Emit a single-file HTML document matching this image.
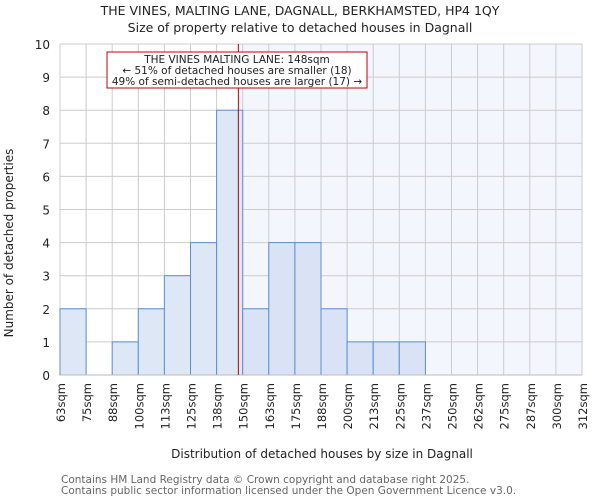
<!DOCTYPE html>
<html><head><meta charset="utf-8"><style>
body{margin:0;background:#fff;font-family:"DejaVu Sans","Liberation Sans",sans-serif;}
svg text{font-family:"DejaVu Sans","Liberation Sans",sans-serif;}
</style></head><body>
<svg id="chart" width="600" height="500" xmlns="http://www.w3.org/2000/svg">
<text x="300" y="15" text-anchor="middle" font-size="12.5" fill="#222">THE VINES, MALTING LANE, DAGNALL, BERKHAMSTED, HP4 1QY</text>
<text x="300" y="32" text-anchor="middle" font-size="12.5" fill="#222">Size of property relative to detached houses in Dagnall</text>
<rect id="shade" fill="#f3f6fd"></rect>
<g id="grid"></g>
<g id="bars"></g>
<g id="axes"></g>
<text x="0" y="0" transform="translate(13,243) rotate(-90)" text-anchor="middle" font-size="12" fill="#222">Number of detached properties</text>
<text x="322" y="458" text-anchor="middle" font-size="12" fill="#222">Distribution of detached houses by size in Dagnall</text>
<text x="61" y="483" font-size="10.5" fill="#666">Contains HM Land Registry data © Crown copyright and database right 2025.</text>
<text x="61" y="494" font-size="10.5" fill="#666">Contains public sector information licensed under the Open Government Licence v3.0.</text>
</svg>
<script>
const categories=["63sqm","75sqm","88sqm","100sqm","113sqm","125sqm","138sqm","150sqm","163sqm","175sqm","188sqm","200sqm","213sqm","225sqm","237sqm","250sqm","262sqm","275sqm","287sqm","300sqm","312sqm"];
const binEdges=[63,75,88,100,113,125,138,150,163,175,188,200,213,225,237,250,262,275,287,300,312];
const counts=[2,0,1,2,3,4,8,2,4,4,2,1,1,1,0,0,0,0,0,0];
const yTicks=[0,1,2,3,4,5,6,7,8,9,10];
const markerValue=148;
const NS="http://www.w3.org/2000/svg";
const x0=60,x1=582,y0=375,y1=44,n=binEdges.length-1;
const bw=(x1-x0)/n;
function xIdx(i){return x0+i*bw;}
function xVal(v){let i=0;while(i<n-1&&v>binEdges[i+1])i++;return xIdx(i)+(v-binEdges[i])/(binEdges[i+1]-binEdges[i])*bw;}
function y(v){return y0-(v/10)*(y0-y1);}
function mk(t,a,p){const e=document.createElementNS(NS,t);for(const k in a)e.setAttribute(k,a[k]);p.appendChild(e);return e;}
const grid=document.getElementById('grid'),bars=document.getElementById('bars'),axes=document.getElementById('axes');
yTicks.forEach(t=>{const l=mk('line',{x1:x0,x2:x1,y1:y(t),y2:y(t),stroke:'#ccc','stroke-width':1},grid);


const tx=mk('text',{x:x0-10,y:y(t)+5,'text-anchor':'end','font-size':12,fill:'#222'},axes);tx.textContent=t;

});
categories.forEach((c,i)=>{const l=mk('line',{x1:xIdx(i),x2:xIdx(i),y1:y1,y2:y0,stroke:'#ccc','stroke-width':1},grid);


const tx=mk('text',{transform:`translate(${xIdx(i)+5},383) rotate(-90)`,'text-anchor':'end','font-size':11.5,fill:'#222'},axes);tx.textContent=c;

});
const mx=xVal(markerValue);
const sh=document.getElementById('shade');sh.setAttribute('x',mx);sh.setAttribute('y',y1);sh.setAttribute('width',x1-mx);sh.setAttribute('height',y0-y1);
counts.forEach((v,i)=>{if(v<=0)return;const r=mk('rect',{x:xIdx(i),y:y(v),width:bw,height:y0-y(v),fill:xIdx(i)>=mx?'#d9e3f5':'#dde7f5',stroke:'#5b8fd6','stroke-width':1},bars);

});
const ax=mk('line',{x1:x0,x2:x1,y1:y0,y2:y0,stroke:'#bbb','stroke-width':1},axes);


const ml=mk('line',{x1:mx,x2:mx,y1:y1,y2:y0,stroke:'#c00000','stroke-width':1},axes);


const box=mk('rect',{x:107,y:52,width:260,height:36,fill:'#fff',stroke:'#c00000','stroke-width':1},axes);


["THE VINES MALTING LANE: 148sqm","← 51% of detached houses are smaller (18)","49% of semi-detached houses are larger (17) →"].forEach((s,i)=>{const t=mk('text',{x:237,y:63+i*11,'text-anchor':'middle','font-size':10.5,fill:'#222'},axes);t.textContent=s;

});
</script>
</body></html>
